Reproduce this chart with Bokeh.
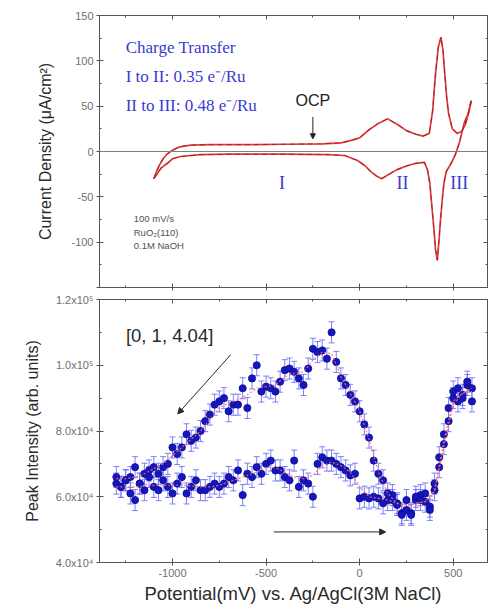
from bokeh.plotting import figure
from bokeh.layouts import column
from bokeh.models import (Range1d, LinearAxis, FixedTicker, Whisker, TeeHead, Arrow,
                          NormalHead, ColumnDataSource, Label, Span)
from bokeh.embed import file_html
from bokeh.resources import INLINE

# ---------------- top panel: cyclic voltammogram ----------------
cv_anodic_E = [-1100, -1085, -1070, -1050, -1030, -1000, -970, -940, -900, -800, -600, -400,
               -200, -100, -50, 0, 50, 100, 150, 200, 250, 300, 340, 372, 390, 405, 420, 434,
               445, 455, 465, 475, 495, 521, 545, 565, 585, 596]
cv_anodic_j = [-30, -22, -15, -8, -3, 1.5, 4.5, 6, 7, 7.5, 7.5, 8,
               8.5, 9.5, 12, 15, 24, 31, 36, 30, 23, 19, 17, 20, 45, 85, 115, 126,
               112, 85, 60, 42, 25, 20, 22, 30, 45, 56]
cv_cathodic_E = [596, 580, 558, 532, 510, 489, 463, 450, 441, 432, 425, 415, 405, 399, 390,
                 383, 375, 362, 346, 300, 250, 200, 150, 117, 90, 64, 30, -11, -80, -170,
                 -400, -700, -850, -957, -1000, -1027, -1060, -1080, -1100]
cv_cathodic_j = [56, 42, 31, 9, -4, -13, -22, -35, -54, -75, -95, -120, -108, -91, -70,
                 -54, -35, -20, -12, -13, -16, -20, -26, -30, -27, -23, -16, -10, -4.4, -3.5,
                 -3, -3, -3.5, -5.5, -8, -13, -18, -24, -30]

top_yticks = [-150, -100, -50, 0, 50, 100, 150]
top_ylabels = ["", "-100", "-50", "0", "50", "100", "150"]
top_yminor = [-125, -75, -25, 25, 75, 125]

# ---------------- bottom panel: X-ray peak intensity ----------------
potential = [-1300, -1275, -1250, -1225, -1200, -1175, -1150, -1125, -1100, -1075, -1050,
             -1025, -1000, -975, -950, -925, -900, -875, -850, -825, -800, -775, -750,
             -725, -700, -675, -650, -625, -600, -575, -550, -525, -500, -475, -450, -425,
             -400, -375, -350, -325, -300, -275, -250, -225, -200, -175, -150, -125, -100,
             -75, -50, -25, 0, 25, 50, 75, 100, 125, 150, 175, 200, 225, 250, 275, 300,
             325, 350, 375, 400, 425, 450, 475, 500, 525, 550, 575, 600]
intensity_forward = [64000, 63000, 65000, 61000, 59000, 64000, 62000, 66000, 63000, 62000, 65000,
                     63000, 61000, 64000, 66000, 61000, 63000, 65000, 62000, 62000, 63000, 64000,
                     63000, 64000, 66000, 65000, 68000, 60500, 67000, 66000, 69000, 67000, 70000,
                     71000, 68000, 68000, 66000, 65000, 71000, 63000, 65000, 64000, 60000, 70000,
                     72000, 71000, 71000, 70000, 69000, 68000, 66500, 67000, 59500, 60000, 59500,
                     60000, 59500, 58000, 59000, 60500, 58000, 55000, 56000, 55000, 59000, 60500,
                     58500, 57000, 62000, 69000, 76000, 83000, 90000, 89000, 91000, 94000, 93000]
intensity_return = [66000, 63000, 65000, 66000, 69000, 64000, 67000, 68000, 69000, 67000, 69000,
                    70000, 75000, 73000, 75000, 79000, 77000, 78000, 80000, 83000, 85000, 88000,
                    89000, 90000, 86000, 88000, 88000, 93000, 87000, 96000, 100000, 92000, 93500,
                    93000, 92000, 95000, 98500, 99000, 98000, 96000, 94000, 99000, 105000, 104000,
                    104500, 102000, 110000, 101000, 96000, 94000, 91000, 89000, 86000, 82000, 78000,
                    71000, 67000, 65000, 61000, 59000, 57500, 54500, 59000, 54500, 60000, 59000,
                    61000, 56000, 64000, 72000, 79000, 87000, 92000, 93000, 90000, 95000, 89000]
intensity_error = 3200

fit_E = [-1300, -1250, -1200, -1150, -1100, -1050, -1000, -950, -900, -850, -800, -750, -700,
         -650, -600, -550, -500, -450, -400, -350, -300, -250, -200, -150, -100, -50, 0, 50,
         100, 150, 200, 250, 300, 350, 400, 450, 500, 550, 600]
fit_forward = [63000, 63000, 63000, 63200, 63500, 63500, 63500, 63500, 63300, 63000, 63000, 63500,
               64500, 65500, 66500, 67500, 69000, 68800, 67500, 66000, 65500, 66500, 69500, 70500,
               69500, 67500, 63000, 60000, 59500, 59000, 58000, 57500, 58000, 58500, 61500, 75500,
               88000, 91500, 93000]
fit_return = [65500, 65500, 66000, 67000, 68500, 70000, 72500, 75000, 77500, 80000, 83500, 87000,
              88500, 89500, 91000, 93000, 93500, 94000, 96500, 97500, 98000, 101500, 104000, 103500,
              96500, 91500, 86000, 77500, 67500, 61000, 58000, 57000, 58000, 58500, 62000, 77000,
              89000, 91500, 92000]

bot_yticks = [40000, 60000, 80000, 100000, 120000]
bot_ylabels = ["4.0x10\u2074", "6.0x10\u2074", "8.0x10\u2074", "1.0x10\u2075", "1.2x10\u2075"]
bot_yminor = [50000, 70000, 90000, 110000]
xticks = [-1000, -500, 0, 500]
xlabels = ["-1000", "-500", "0", "500"]
xminor = [-1250, -750, -250, 250]

FONT = "Liberation Sans"
SERIF = "Liberation Serif"
AX = "#555555"
TICKTXT = "#707070"
BLUE_TXT = "#3a3ad0"
X_RANGE = (-1390, 683)


def style_axis(ax, ticks, labels=None):
    ax.axis_line_color = AX
    ax.major_tick_line_color = AX
    ax.minor_tick_line_color = AX
    ax.major_tick_in = 4
    ax.major_tick_out = 3
    ax.minor_tick_in = 2
    ax.minor_tick_out = 0
    ax.major_label_text_font = FONT
    ax.major_label_text_color = TICKTXT
    ax.major_label_text_font_size = "11px"
    if labels is None:
        labels = [""] * len(ticks)
        ax.major_label_standoff = 0
    else:
        ax.major_label_standoff = 3
    ax.major_label_overrides = {t: l for t, l in zip(ticks, labels)}
    ax.axis_label_text_font = FONT
    ax.axis_label_text_font_style = "normal"
    ax.axis_label_text_color = "#2a2a2a"


def mirror(p, xt, xm, yt, ym):
    r = LinearAxis(ticker=FixedTicker(ticks=yt, minor_ticks=ym))
    style_axis(r, yt)
    r.major_tick_out = 0
    p.add_layout(r, "right")
    t = LinearAxis(ticker=FixedTicker(ticks=xt, minor_ticks=xm))
    style_axis(t, xt)
    t.major_tick_out = 0
    p.add_layout(t, "above")


# ---------------- top figure ----------------
p1 = figure(width=490, height=293, x_range=Range1d(*X_RANGE), y_range=Range1d(-150, 150),
            output_backend="svg", toolbar_location=None,
            min_border_left=99, min_border_right=3, min_border_top=15, min_border_bottom=6)
p1.grid.visible = False
p1.outline_line_color = AX

p1.xaxis.ticker = FixedTicker(ticks=xticks, minor_ticks=xminor)
p1.yaxis.ticker = FixedTicker(ticks=top_yticks, minor_ticks=top_yminor)
style_axis(p1.xaxis[0], xticks)
style_axis(p1.yaxis[0], top_yticks, top_ylabels)
p1.yaxis.axis_label = "Current Density (\u03bcA/cm\u00b2)"
p1.yaxis.axis_label_text_font_size = "16px"
p1.yaxis.axis_label_standoff = 14
mirror(p1, xticks, xminor, top_yticks, top_yminor)

p1.add_layout(Span(location=0, dimension="width", line_color="#808080", line_width=1))

for E, j in ((cv_anodic_E, cv_anodic_j), (cv_cathodic_E, cv_cathodic_j)):
    p1.line(E, j, line_color="#e23a3a", line_width=1.7)
    p1.line(E, j, line_color="#6a1a1a", line_width=0.6, line_dash="5 4")

for txt, yy in (("Charge Transfer", 114.8), ("I to II: 0.35 e\u207b/Ru", 82.8),
                ("II to III: 0.48 e\u207b/Ru", 50.8)):
    p1.add_layout(Label(x=-1250, y=yy, text=txt, text_font=SERIF, text_font_size="17px",
                        text_color=BLUE_TXT, text_baseline="middle", text_align="left"))

p1.add_layout(Label(x=-250, y=56, text="OCP", text_font=FONT, text_font_size="16px",
                    text_color="#222222", text_baseline="middle", text_align="center"))
p1.add_layout(Arrow(end=NormalHead(size=5, fill_color="#222222", line_color="#222222"),
                    x_start=-250, y_start=38, x_end=-250, y_end=14,
                    line_color="#222222", line_width=1))

for txt, xx in (("I", -415), ("II", 229), ("III", 532)):
    p1.add_layout(Label(x=xx, y=-35, text=txt, text_font=SERIF, text_font_size="18px",
                        text_color=BLUE_TXT, text_baseline="middle", text_align="center"))

for txt, yy in (("100 mV/s", -74), ("RuO\u2082(110)", -89.4), ("0.1M NaOH", -104)):
    p1.add_layout(Label(x=-1207, y=yy, text=txt, text_font=FONT, text_font_size="9.5px",
                        text_color="#505050", text_baseline="middle", text_align="left"))

# ---------------- bottom figure ----------------
p2 = figure(width=490, height=313, x_range=Range1d(*X_RANGE), y_range=Range1d(40000, 120000),
            output_backend="svg", toolbar_location=None,
            min_border_left=99, min_border_right=3, min_border_top=6, min_border_bottom=40)
p2.grid.visible = False
p2.outline_line_color = AX
p2.xaxis.ticker = FixedTicker(ticks=xticks, minor_ticks=xminor)
p2.yaxis.ticker = FixedTicker(ticks=bot_yticks, minor_ticks=bot_yminor)
style_axis(p2.xaxis[0], xticks, xlabels)
style_axis(p2.yaxis[0], bot_yticks, bot_ylabels)
p2.xaxis.axis_label = "Potential(mV) vs. Ag/AgCl(3M NaCl)"
p2.xaxis.axis_label_text_font_size = "18.5px"
p2.xaxis.axis_label_standoff = 3
p2.yaxis.axis_label = "Peak Intensity (arb. units)"
p2.yaxis.axis_label_text_font_size = "16px"
p2.yaxis.axis_label_standoff = 12
mirror(p2, xticks, xminor, bot_yticks, bot_yminor)

for series in (intensity_forward, intensity_return):
    src = ColumnDataSource(dict(E=potential, I=series,
                                lo=[v - intensity_error for v in series],
                                hi=[v + intensity_error for v in series]))
    p2.add_layout(Whisker(source=src, base="E", lower="lo", upper="hi", dimension="height",
                          line_color="#6a6aff", line_width=1, line_alpha=0.85,
                          upper_head=TeeHead(size=6, line_color="#6a6aff", line_alpha=0.85),
                          lower_head=TeeHead(size=6, line_color="#6a6aff", line_alpha=0.85)))
for series in (intensity_forward, intensity_return):
    p2.scatter(potential, series, marker="circle", size=7.2, fill_color="#1616c0",
               line_color="#0c0c8c", line_width=0.8)
for fit in (fit_forward, fit_return):
    p2.line(fit_E, fit, line_color="#ff6a6a", line_width=1.2, line_dash="2 2", line_alpha=0.9)

p2.add_layout(Label(x=-1249, y=109200, text="[0, 1, 4.04]", text_font=FONT,
                    text_font_size="18.5px", text_color="#2a2a2a", text_baseline="middle",
                    text_align="left"))
p2.add_layout(Arrow(end=NormalHead(size=6, fill_color="#2a2a2a", line_color="#2a2a2a"),
                    x_start=-689, y_start=103200, x_end=-972, y_end=85200,
                    line_color="#2a2a2a", line_width=1))
p2.add_layout(Arrow(end=NormalHead(size=6, fill_color="#2a2a2a", line_color="#2a2a2a"),
                    x_start=-459, y_start=49300, x_end=139, y_end=49300,
                    line_color="#2a2a2a", line_width=1))

layout = column(p1, p2, spacing=0)
open("out.html", "w").write(file_html(layout, INLINE))
